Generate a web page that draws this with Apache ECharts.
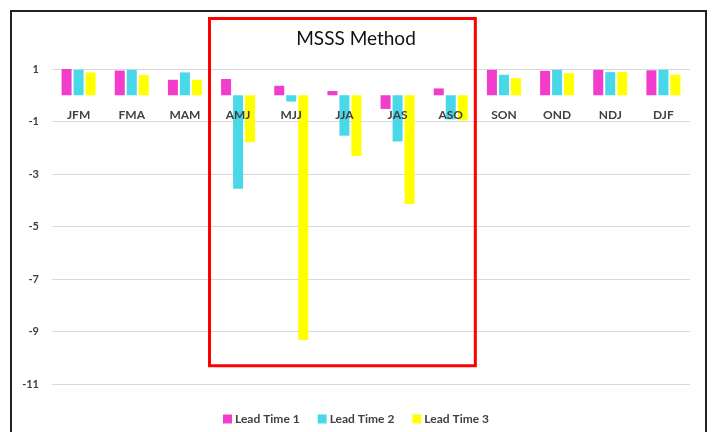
<!DOCTYPE html>
<html>
<head>
<meta charset="utf-8">
<script src="https://cdn.jsdelivr.net/npm/echarts@6/dist/echarts.min.js"></script>
<style>
html,body{margin:0;padding:0;background:#fff;}
#chart{width:712px;height:432px;}
</style>
</head>
<body>
<div id="chart"></div>
<script>
const categories = ['JFM','FMA','MAM','AMJ','MJJ','JJA','JAS','ASO','SON','OND','NDJ','DJF'];
const seriesNames = ['Lead Time 1','Lead Time 2','Lead Time 3'];
const leadTime1 = [1.0, 0.94, 0.59, 0.62, 0.36, 0.16, -0.52, 0.26, 0.97, 0.93, 0.97, 0.95];
const leadTime2 = [0.97, 0.97, 0.87, -3.56, -0.24, -1.54, -1.76, -0.92, 0.78, 0.97, 0.88, 0.97];
const leadTime3 = [0.87, 0.77, 0.59, -1.79, -9.32, -2.31, -4.14, -0.96, 0.65, 0.84, 0.88, 0.78];
const highlightRange = ['AMJ', 'ASO'];
const highlightValues = [2.92, -10.3];
const colors = ['#F23CCB', '#48D8E8', '#FFFF00'];

const font = 'Lato, "Open Sans", sans-serif';
const chart = echarts.init(document.getElementById('chart'), null, {renderer: 'canvas'});

const seriesData = [leadTime1, leadTime2, leadTime3];
const option = {
  animation: false,
  backgroundColor: '#fff',
  color: colors,
  title: {
    text: 'MSSS Method',
    left: 'center',
    top: 24,
    textStyle: {fontFamily: font, fontSize: 19, fontWeight: 'normal', color: '#111'}
  },
  legend: {
    data: seriesNames,
    top: 408,
    left: 'center',
    icon: 'rect',
    itemWidth: 9,
    itemHeight: 9,
    itemGap: 18,
    textStyle: {fontFamily: font, fontSize: 12, fontWeight: 'bold', color: '#404040', padding: [0,0,0,-2]}
  },
  grid: {left: 52, right: 22, top: 69, bottom: 48, containLabel: false},
  xAxis: {
    type: 'category',
    data: categories,
    z: 10,
    axisLine: {show: false, onZero: false},
    axisTick: {show: false},
    axisLabel: {margin: 14, fontFamily: font, fontSize: 12, fontWeight: 'bold', color: '#404040'},
    splitLine: {show: false}
  },
  yAxis: {
    type: 'value',
    min: -11,
    max: 1,
    interval: 2,
    axisLine: {show: false},
    axisTick: {show: false},
    axisLabel: {margin: 13, fontFamily: font, fontSize: 11, fontWeight: 'bold', color: '#404040'},
    splitLine: {lineStyle: {color: '#d9d9d9', width: 1}}
  },
  series: seriesNames.map((n, i) => ({
    name: n,
    type: 'bar',
    data: seriesData[i],
    barWidth: 10,
    barGap: '20%',
    itemStyle: {color: colors[i]}
  })),
  graphic: [{
    id: 'frame',
    type: 'rect',
    silent: true,
    shape: {x: 11, y: 11, width: 695, height: 440},
    style: {fill: 'none', stroke: '#222', lineWidth: 2}
  }]
};
chart.setOption(option);

const c0 = chart.convertToPixel({xAxisIndex: 0}, categories[0]);
const c1 = chart.convertToPixel({xAxisIndex: 0}, categories[1]);
const band = c1 - c0;
const xL = chart.convertToPixel({xAxisIndex: 0}, highlightRange[0]) - band / 2;
const xR = chart.convertToPixel({xAxisIndex: 0}, highlightRange[1]) + band / 2;
const yT = chart.convertToPixel({yAxisIndex: 0}, highlightValues[0]);
const yB = chart.convertToPixel({yAxisIndex: 0}, highlightValues[1]);
const yZero = chart.convertToPixel({yAxisIndex: 0}, 0);
const yMin = chart.convertToPixel({yAxisIndex: 0}, -11);
chart.setOption({
  xAxis: {offset: yZero - yMin},
  graphic: [{
    id: 'box',
    type: 'rect',
    silent: true,
    z: 100,
    shape: {x: xL - 2, y: yT, width: xR - xL, height: yB - yT},
    style: {fill: 'none', stroke: '#FF0000', lineWidth: 3}
  }]
});
</script>
</body>
</html>
